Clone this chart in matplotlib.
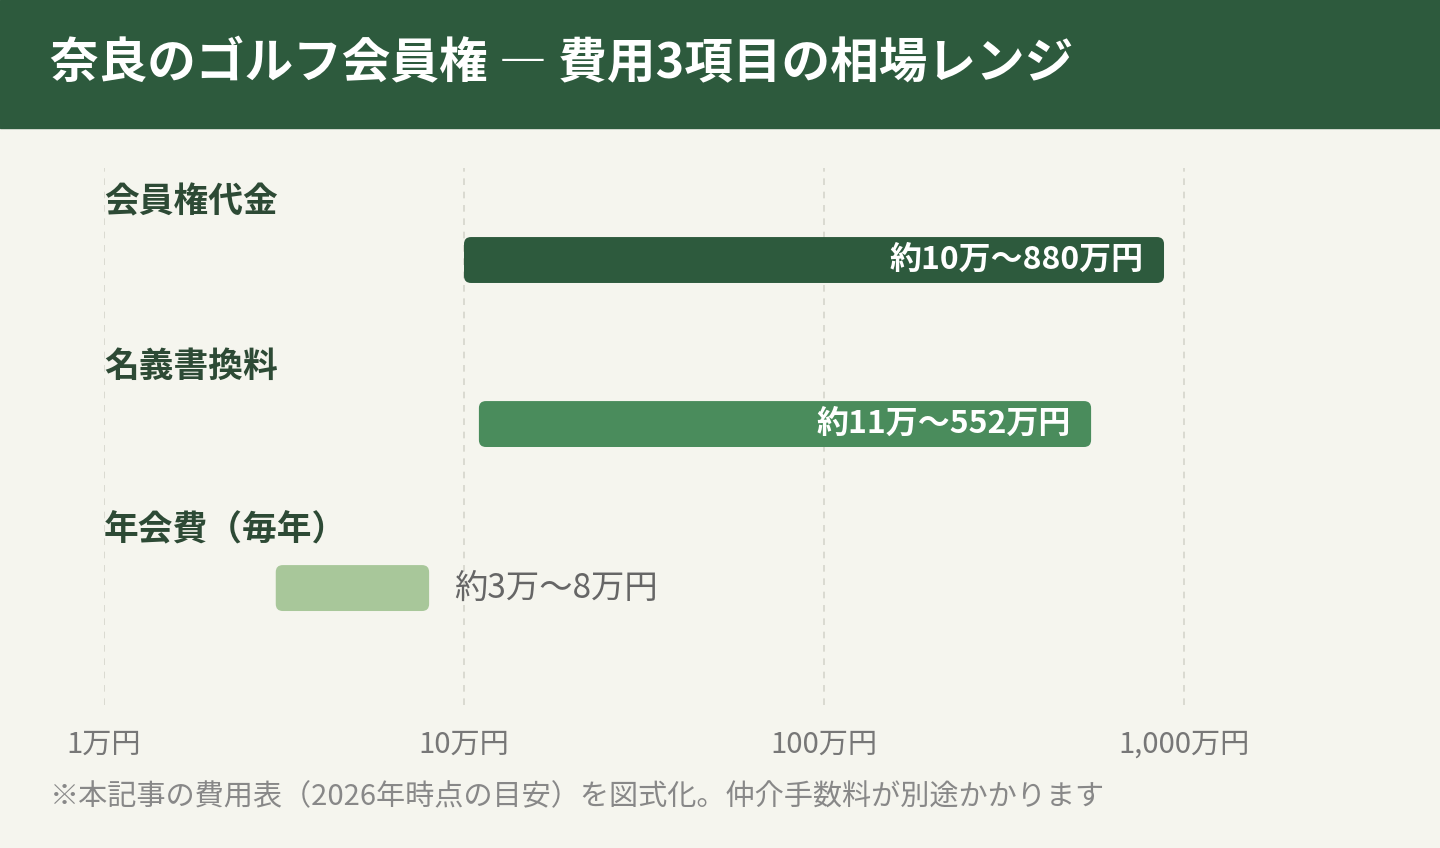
import matplotlib
matplotlib.use("Agg")
import matplotlib.pyplot as plt
from matplotlib.patches import FancyBboxPatch, Rectangle
from matplotlib.transforms import IdentityTransform

plt.rcParams['font.family'] = ['Noto Sans CJK JP', 'DejaVu Sans']

categories = ["会員権代金", "名義書換料", "年会費（毎年）"]
lows = [10, 11, 3]
highs = [880, 552, 8]
labels = ["約10万〜880万円", "約11万〜552万円", "約3万〜8万円"]
colors = ["#2d5a3d", "#4a8c5c", "#a8c79a"]
ticks = [1, 10, 100, 1000]
tick_labels = ["1万円", "10万円", "100万円", "1,000万円"]

W, H = 1440, 848
fig = plt.figure(figsize=(W/100, H/100), dpi=100, facecolor="#f5f5ee")
fig.patches.append(Rectangle((0, 1-128/H), 1, 128/H, transform=fig.transFigure,
                             color="#2d5a3d", zorder=0))
fig.text(50/W, 1-64/H, "奈良のゴルフ会員権 ― 費用3項目の相場レンジ", color="white",
         fontsize=35, fontweight="bold", va="center", ha="left")

ax = fig.add_axes([104/W, 1-705/H, (1400-104)/W, (705-168)/H])
ax.set_facecolor("#f5f5ee")
ax.set_xscale("log")
ax.set_xlim(1, 10**((1400-104)/360))
ax.set_ylim(2.713, -0.561)
for s in ax.spines.values():
    s.set_visible(False)
ax.set_yticks([])
ax.set_xticks(ticks)
ax.set_xticklabels(tick_labels)
ax.minorticks_off()
ax.tick_params(axis="x", length=0, labelsize=21, labelcolor="#777777", pad=18)
for t in ticks:
    ax.axvline(t, color="#d5d5cc", lw=1.2, ls=(0, (4, 4)), zorder=0)

fig.canvas.draw()
bh = 0.28
for i, (lo, hi, c, lab, cat) in enumerate(zip(lows, highs, colors, labels, categories)):
    (x0, y0) = ax.transData.transform((lo, i + bh/2))
    (x1, y1) = ax.transData.transform((hi, i - bh/2))
    p = FancyBboxPatch((x0, y0), x1-x0, y1-y0, boxstyle="round,pad=0,rounding_size=7",
                       facecolor=c, edgecolor="none", zorder=2)
    ax.add_patch(p)
    p.set_transform(IdentityTransform())
    p.set_clip_on(False)
    ax.text(1, i-0.354, cat, fontsize=25, fontweight="bold", color="#2d4a35",
            va="center", ha="left")
    if i < 2:
        ax.annotate(lab, (hi, i), xytext=(-20, 0), textcoords="offset pixels",
                    ha="right", va="center", color="white", fontsize=23,
                    fontweight="bold", zorder=3)
    else:
        ax.annotate(lab, (hi, i), xytext=(25, 0), textcoords="offset pixels",
                    ha="left", va="center", color="#666666", fontsize=24, zorder=3)

fig.text(50/W, 1-797/H, "※本記事の費用表（2026年時点の目安）を図式化。仲介手数料が別途かかります",
         fontsize=21, color="#888888", va="center", ha="left")
fig.savefig("out.png", dpi=100, facecolor=fig.get_facecolor())
